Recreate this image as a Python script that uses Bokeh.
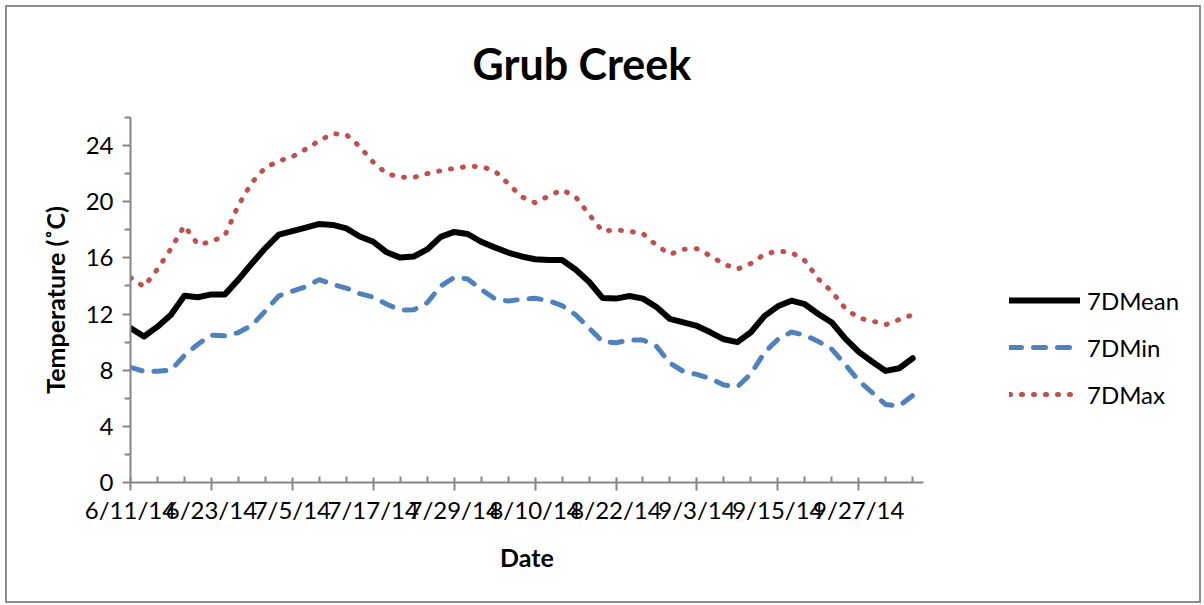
import pandas as pd
from bokeh.plotting import figure
from bokeh.layouts import row
from bokeh.models import (FixedTicker, Legend, LegendItem,
                          ColumnDataSource, Range1d)
from bokeh.embed import file_html
from bokeh.resources import INLINE

# ---------------- data ----------------
title_text = "Grub Creek"
x_title = "Date"
y_title = "Temperature (˚C)"
series_names = ["7DMean", "7DMin", "7DMax"]

start_date = "2014-06-11"
step_days = 2  # values read every second day

d7_mean = [11.0, 10.4, 11.1, 11.95, 13.3, 13.2, 13.4, 13.4, 14.45, 15.6,
           16.7, 17.65, 17.9, 18.15, 18.42, 18.35, 18.1, 17.52, 17.15, 16.4,
           16.02, 16.1, 16.6, 17.5, 17.85, 17.7, 17.15, 16.75, 16.38, 16.1,
           15.9, 15.85, 15.85, 15.17, 14.3, 13.15, 13.1, 13.28, 13.1, 12.5,
           11.65, 11.4, 11.15, 10.7, 10.2, 10.0, 10.7, 11.85, 12.55, 12.95,
           12.7, 12.0, 11.4, 10.25, 9.3, 8.6, 7.95, 8.14, 8.85]

d7_min = [8.2, 7.92, 7.92, 8.0, 9.05, 9.85, 10.5, 10.45, 10.68, 11.2,
          12.22, 13.3, 13.62, 13.95, 14.45, 14.1, 13.85, 13.45, 13.2, 12.7,
          12.28, 12.3, 12.8, 14.0, 14.6, 14.5, 13.75, 13.1, 12.92, 13.05,
          13.12, 12.95, 12.6, 11.95, 11.0, 10.05, 9.95, 10.15, 10.15, 9.7,
          8.5, 7.91, 7.7, 7.4, 6.95, 6.82, 7.74, 9.25, 10.2, 10.72,
          10.5, 10.05, 9.5, 8.4, 7.25, 6.4, 5.55, 5.45, 6.2]

d7_max = [14.6, 13.95, 15.2, 16.65, 18.3, 16.95, 17.15, 17.6, 19.75, 21.36,
          22.43, 22.9, 23.2, 23.75, 24.34, 24.85, 24.78, 23.93, 22.81, 22.0,
          21.75, 21.73, 22.0, 22.21, 22.37, 22.52, 22.5, 22.2, 21.3, 20.35,
          19.93, 20.4, 20.85, 20.35, 19.1, 17.9, 18.0, 17.9, 17.72, 16.9,
          16.25, 16.62, 16.65, 16.15, 15.55, 15.2, 15.6, 16.25, 16.48, 16.4,
          15.8, 14.5, 13.6, 12.4, 11.72, 11.5, 11.25, 11.6, 11.95]

x_tick_labels = ["6/11/14", "6/23/14", "7/5/14", "7/17/14", "7/29/14",
                 "8/10/14", "8/22/14", "9/3/14", "9/15/14", "9/27/14"]
y_ticks = [0, 4, 8, 12, 16, 20, 24]
y_minor = [2, 6, 10, 14, 18, 22, 26]

# ---------------- derived positions ----------------
t0 = pd.Timestamp(start_date)
dates = pd.date_range(t0, periods=len(d7_mean), freq=f"{step_days}D")
days = [int((d - t0).days) for d in dates]
tick_days = [int((pd.to_datetime(s, format="%m/%d/%y") - t0).days) for s in x_tick_labels]
x_minor = [d for d in range(4, 117, 4) if d not in tick_days]

src = ColumnDataSource(dict(day=days, mean=d7_mean, mn=d7_min, mx=d7_max))
cols = ["mean", "mn", "mx"]

FONT = "Lato"
AX = "#868686"
STYLES = [
    dict(line_color="black", line_width=6, line_join="round", line_cap="round"),
    dict(line_color="#4F81BD", line_width=5, line_dash="12 12", line_join="round", line_cap="round"),
    dict(line_color="#C0504D", line_width=5, line_dash="1 11", line_join="round", line_cap="round"),
]

# main chart: canvas origin at page (7, 7) (5px margin + 2px border of the row)
p = figure(width=950, height=594, output_backend="svg", toolbar_location=None,
           x_range=Range1d(0, 117.6), y_range=Range1d(0, 26),
           min_border_left=123, min_border_right=34,
           min_border_top=110, min_border_bottom=119)
p.outline_line_color = None
p.xgrid.visible = False
p.ygrid.visible = False
p.background_fill_color = "white"
p.border_fill_color = "white"

for c, st in zip(cols, STYLES):
    p.line("day", c, source=src, **st)

# axes
xa = p.xaxis[0]
ya = p.yaxis[0]
xa.ticker = FixedTicker(ticks=tick_days, minor_ticks=x_minor)
xa.major_label_overrides = {d: s for d, s in zip(tick_days, x_tick_labels)}
ya.ticker = FixedTicker(ticks=y_ticks, minor_ticks=y_minor)

for ax in (xa, ya):
    ax.axis_line_color = AX
    ax.axis_line_width = 2
    ax.major_tick_line_color = AX
    ax.major_tick_line_width = 2
    ax.minor_tick_line_color = AX
    ax.minor_tick_line_width = 2
    ax.major_label_text_font = FONT
    ax.major_label_text_font_size = "24px"
    ax.major_label_text_color = "black"
    ax.axis_label_text_font = FONT
    ax.axis_label_text_font_size = "25px"
    ax.axis_label_text_font_style = "bold"
    ax.axis_label_text_color = "black"

xa.axis_label = x_title
xa.major_tick_in = 5
xa.major_tick_out = 8
xa.minor_tick_in = 6
xa.minor_tick_out = 0
xa.major_label_standoff = 4
xa.axis_label_standoff = 15
xa.major_label_orientation = "horizontal"

ya.axis_label = y_title
ya.major_tick_in = 0
ya.major_tick_out = 8
ya.minor_tick_in = 0
ya.minor_tick_out = 6
ya.major_label_standoff = 9
ya.axis_label_standoff = 13

# title
p.title.text = title_text
p.title.text_font = FONT
p.title.text_font_size = "43px"
p.title.text_font_style = "bold"
p.title.text_color = "black"
p.title.align = "left"
p.title.offset = 342
p.title.standoff = 57

# legend panel: a small figure to the right holding the legend.
# Its ranges lie below all data, so its own copies of the lines stay hidden
# and only serve as legend glyphs.
pl = figure(width=242, height=594, output_backend="svg", toolbar_location=None,
            x_axis_type=None, y_axis_type=None, min_border=0,
            x_range=Range1d(0, 1), y_range=Range1d(-2, -1))
pl.outline_line_color = None
pl.grid.visible = False
pl.background_fill_color = "white"
pl.border_fill_color = "white"
leg_renderers = [pl.line("day", c, source=src, **st) for c, st in zip(cols, STYLES)]

legend = Legend(items=[LegendItem(label=n, renderers=[r])
                       for n, r in zip(series_names, leg_renderers)],
                location=(52, 73), orientation="vertical")
legend.label_text_font = FONT
legend.label_text_font_size = "24px"
legend.label_text_color = "black"
legend.glyph_width = 71
legend.glyph_height = 30
legend.label_height = 30
legend.label_standoff = 7
legend.spacing = 17
legend.padding = 0
legend.margin = 0
legend.border_line_alpha = 0
legend.background_fill_alpha = 0
pl.add_layout(legend, "center")

layout = row(p, pl, styles={"border": "2px solid #8c8c8c",
                            "margin-left": "5px", "margin-top": "5px"})

open("out.html", "w").write(file_html(layout, INLINE))
